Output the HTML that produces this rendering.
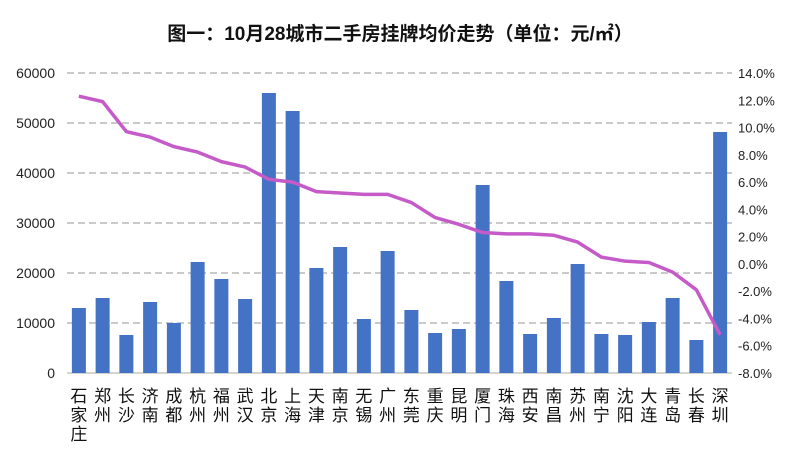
<!DOCTYPE html>
<html><head><meta charset="utf-8">
<style>
body{margin:0;background:#fff;width:800px;height:469px;overflow:hidden;font-family:"Liberation Sans","Noto Sans CJK SC",sans-serif;}
</style></head>
<body>
<svg id="chart" width="800" height="469" xmlns="http://www.w3.org/2000/svg" font-family="Liberation Sans, Noto Sans CJK SC, sans-serif">
<text x="400" y="40" text-anchor="middle" font-size="19" font-weight="bold" fill="#111">图一：10月28城市二手房挂牌均价走势（单位：元/㎡）</text>
<g id="grid"></g><g id="bars"></g><g id="line"></g><g id="labels"></g>
</svg>
<script>
const categories=["石家庄","郑州","长沙","济南","成都","杭州","福州","武汉","北京","上海","天津","南京","无锡","广州","东莞","重庆","昆明","厦门","珠海","西安","南昌","苏州","南宁","沈阳","大连","青岛","长春","深圳"];
const priceValues=[13000,15000,7600,14200,10000,22200,18800,14800,56000,52400,21000,25200,10800,24400,12600,8000,8800,37600,18400,7800,11000,21800,7800,7600,10200,15000,6600,48200];
const changeValues=[12.3,11.9,9.7,9.3,8.6,8.2,7.5,7.1,6.2,6.0,5.3,5.2,5.1,5.1,4.5,3.4,2.9,2.3,2.2,2.2,2.1,1.6,0.5,0.2,0.1,-0.6,-1.9,-5.2];
const leftTicks=[0,10000,20000,30000,40000,50000,60000];
const rightTicks=[-8,-6,-4,-2,0,2,4,6,8,10,12,14];
const NS="http://www.w3.org/2000/svg";
const plotTop=73,plotBottom=373,x0=67,x1=732;
const yL=v=>plotBottom-(v/60000)*(plotBottom-plotTop);
const yR=v=>plotBottom-((v+8)/22)*(plotBottom-plotTop);
const step=(x1-x0)/categories.length;
const xC=i=>x0+step*(i+0.5);
function mk(tag,attrs,parent){const e=document.createElementNS(NS,tag);for(const k in attrs)e.setAttribute(k,attrs[k]);parent.appendChild(e);return e;}
const grid=document.getElementById('grid'),bars=document.getElementById('bars'),line=document.getElementById('line'),labels=document.getElementById('labels');
leftTicks.forEach(t=>{
  const y=yL(t);
  const l=mk('line',{x1:x0,x2:x1,y1:y,y2:y,stroke:t===0?'#bbb':'#aaa','stroke-width':1.3,'stroke-dasharray':t===0?'none':'7,4'},grid);
  
  
  const tx=mk('text',{x:55,y:y+5,'text-anchor':'end','font-size':14,fill:'#222'},labels);
  tx.textContent=t;
  
  
});
rightTicks.forEach(t=>{
  const tx=mk('text',{x:738,y:yR(t)+5,'font-size':13,fill:'#222'},labels);
  tx.textContent=t.toFixed(1)+'%';
  
  
});
priceValues.forEach((v,i)=>{
  const r=mk('rect',{x:xC(i)-7,y:yL(v),width:14,height:plotBottom-yL(v),fill:'#4472C4'},bars);
  
  
});
const pts=changeValues.map((v,i)=>xC(i)+','+yR(v)).join(' ');
const pl=mk('polyline',{points:pts,fill:'none',stroke:'#C55BC8','stroke-width':3.5,'stroke-linejoin':'round'},line);


categories.forEach((c,i)=>{
  [...c].forEach((ch,j)=>{
    const t=mk('text',{x:xC(i),y:402+j*19,'text-anchor':'middle','font-size':17,fill:'#111'},labels);
    t.textContent=ch;
    
    
  });
});
</script>
</body></html>
